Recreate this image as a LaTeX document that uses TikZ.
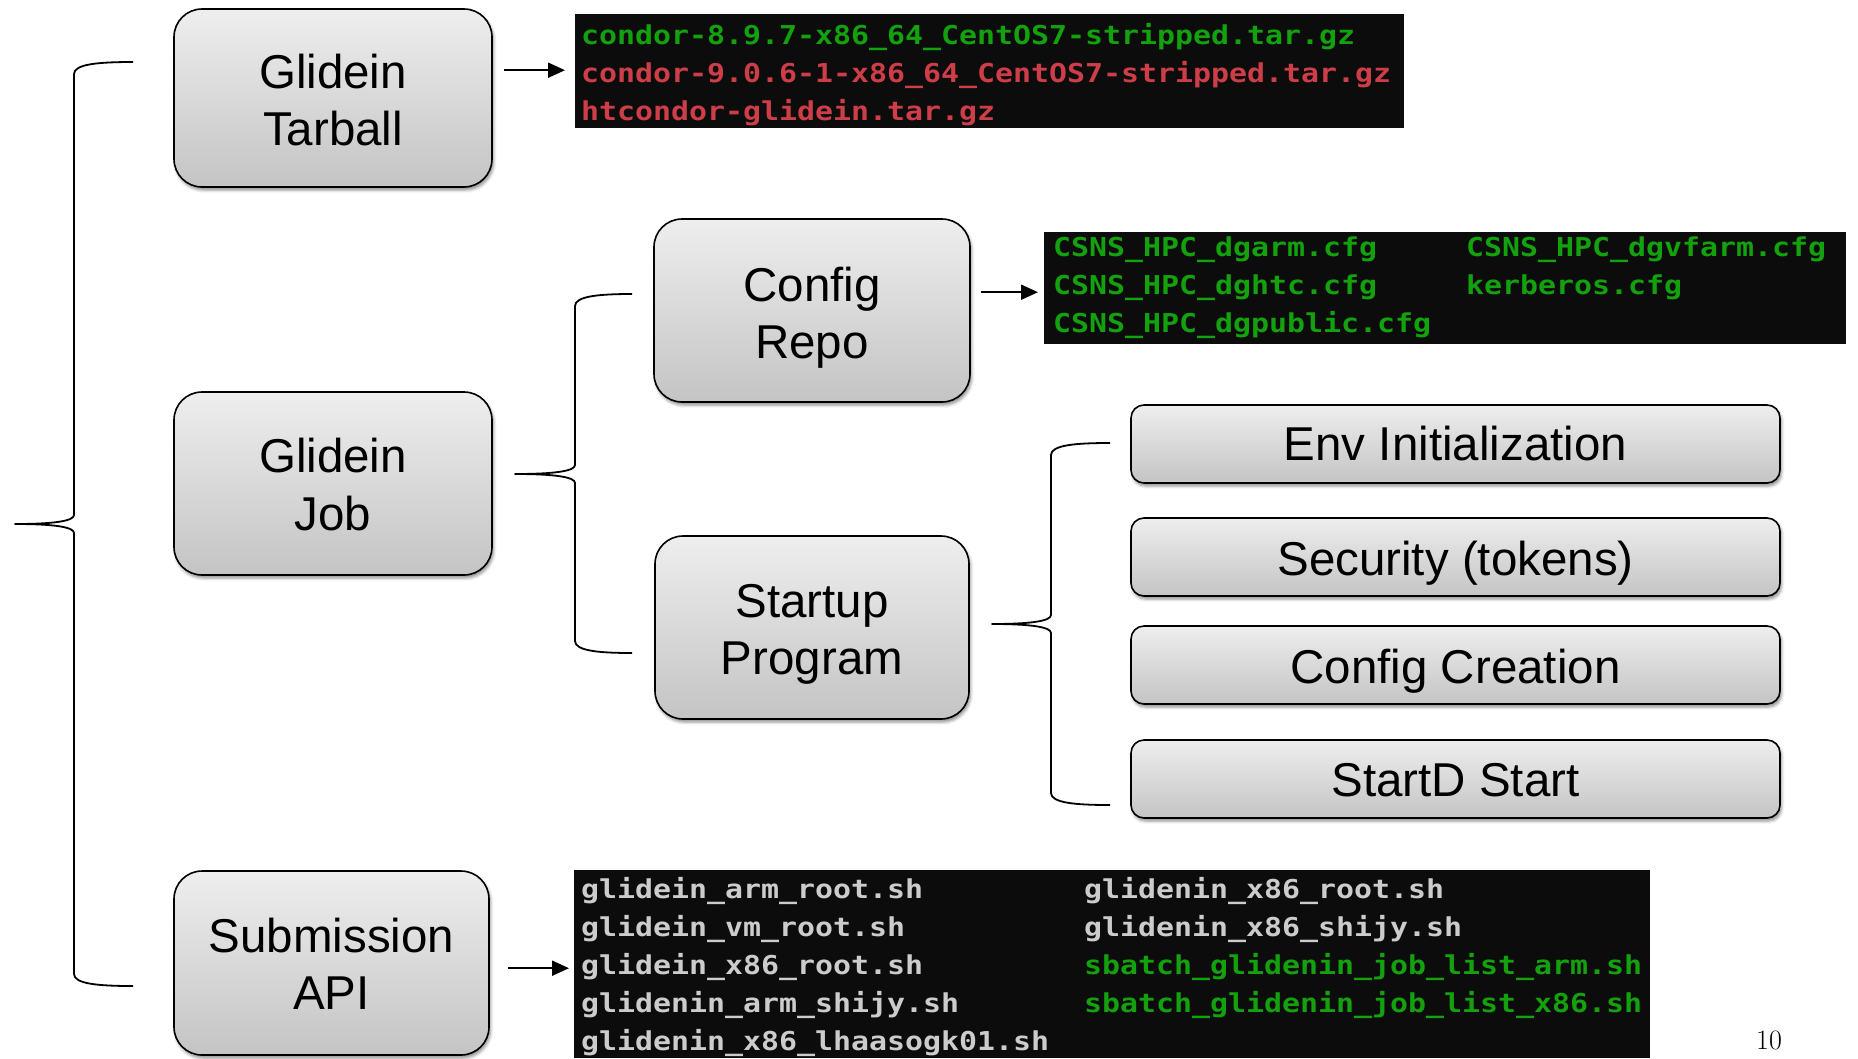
\documentclass[tikz,border=0pt]{standalone}
\usepackage{fontspec}
\usetikzlibrary{arrows.meta,shadows.blur,calc}
\newfontfamily\boxfont{Liberation Sans}
\newfontfamily\termfont[FakeStretch=1.15]{DejaVu Sans Mono Bold}
\definecolor{boxtop}{HTML}{EEEEEE}
\definecolor{boxbot}{HTML}{C4C4C4}
\definecolor{termbg}{HTML}{0C0C0C}
\definecolor{tgreen}{RGB}{19,161,14}
\definecolor{tred}{RGB}{205,62,72}
\definecolor{tgrey}{RGB}{204,204,204}

% curly brace: tip x, spine x, arm x, top y, middle y, bottom y
\newcommand\drawbrace[6]{%
  \draw[brc] (#3,#4) .. controls ({#2+25},#4) and (#2,{#4+2}) .. (#2,{#4+12})
    -- (#2,{#5-9}) .. controls (#2,{#5-3}) and ({#2-20},#5) .. (#1,#5)
    .. controls ({#2-20},#5) and (#2,{#5+3}) .. (#2,{#5+9})
    -- (#2,{#6-12}) .. controls (#2,{#6-2}) and ({#2+25},#6) .. (#3,#6);}

\begin{document}
\begin{tikzpicture}[x=1pt,y=-1pt,
  gbox/.style={draw=black, line width=1.6pt, rounded corners=28pt,
    top color=boxtop, bottom color=boxbot,
    blur shadow={shadow xshift=1.5pt, shadow yshift=-3pt, shadow blur radius=3pt, shadow opacity=45},
    inner sep=0pt},
  sbox/.style={gbox, rounded corners=13pt, minimum width=649pt, minimum height=78pt},
  btext/.style={font=\boxfont\fontsize{47.5}{57.5}\selectfont, align=center, inner sep=0pt},
  term/.style={fill=termbg, draw=none, inner sep=0pt, anchor=north west},
  tl/.style={inner sep=0pt, anchor=base west, font=\termfont\fontsize{26}{30}\selectfont},
  arr/.style={line width=2pt, -{Triangle[length=17pt,width=15pt]}},
  brc/.style={line width=1.8pt, line join=round}]
\useasboundingbox (0,0) rectangle (1858,1058);

% main boxes
\node[gbox, minimum width=318pt, minimum height=178pt] (tarball) at (333,98) {};
\node[gbox, minimum width=318pt, minimum height=183pt] (job) at (333,483.5) {};
\node[gbox, minimum width=315pt, minimum height=184pt] (submit) at (331.5,963) {};
\node[gbox, minimum width=316pt, minimum height=183pt] (config) at (812,310.5) {};
\node[gbox, minimum width=314pt, minimum height=183pt] (startup) at (812,627.5) {};

% startup steps
\node[sbox] (env) at (1455.5,444) {};
\node[sbox] (sec) at (1455.5,557) {};
\node[sbox] (cre) at (1455.5,665) {};
\node[sbox] (sdst) at (1455.5,779) {};

% box labels
\node[btext] (tarballtxt) at ($(tarball.center)+(0,2)$) {Glidein\\Tarball};
\node[btext] (jobtxt) at ($(job.center)+(0,1)$) {Glidein\\Job};
\node[btext] (submittxt) at ($(submit.center)+(0,1)$) {Submission\\API};
\node[btext] (configtxt) at ($(config.center)+(0,7)$) {Config\\Repo};
\node[btext] (startuptxt) at ($(startup.center)+(0,7)$) {Startup\\Program};
\node[btext] (envtxt) at ($(env.center)+(0,0)$) {Env Initialization};
\node[btext] (sectxt) at ($(sec.center)+(0,6)$) {Security (tokens)};
\node[btext] (cretxt) at ($(cre.center)+(0,6)$) {Config Creation};
\node[btext] (sdsttxt) at ($(sdst.center)+(0,1)$) {StartD Start};

% braces
\drawbrace{15}{74}{133}{62}{524}{986}
\drawbrace{515}{575}{632}{294}{474}{653}
\drawbrace{992}{1051}{1110}{443}{624}{805}

% terminal listings
\node[term, minimum width=829pt, minimum height=114pt] (tarterm) at (575,14) {};
\node[tl] (ta1) at (581,44) {\color{tgreen}condor-8.9.7-x86\_64\_CentOS7-stripped.tar.gz};
\node[tl] (ta2) at (581,82) {\color{tred}condor-9.0.6-1-x86\_64\_CentOS7-stripped.tar.gz};
\node[tl] (ta3) at (581,120) {\color{tred}htcondor-glidein.tar.gz};

\node[term, minimum width=802pt, minimum height=112pt] (cfgterm) at (1044,232) {};
\node[tl] (cf1) at (1053,256) {\color{tgreen}CSNS\_HPC\_dgarm.cfg};
\node[tl] (cf2) at (1053,294) {\color{tgreen}CSNS\_HPC\_dghtc.cfg};
\node[tl] (cf3) at (1053,332) {\color{tgreen}CSNS\_HPC\_dgpublic.cfg};
\node[tl] (cf4) at (1466,256) {\color{tgreen}CSNS\_HPC\_dgvfarm.cfg};
\node[tl] (cf5) at (1466,294) {\color{tgreen}kerberos.cfg};

\node[term, minimum width=1076pt, minimum height=188pt] (subterm) at (574,870) {};
\node[tl] (su1) at (581,898) {\color{tgrey}glidein\_arm\_root.sh};
\node[tl] (su2) at (581,936) {\color{tgrey}glidein\_vm\_root.sh};
\node[tl] (su3) at (581,974) {\color{tgrey}glidein\_x86\_root.sh};
\node[tl] (su4) at (581,1012) {\color{tgrey}glidenin\_arm\_shijy.sh};
\node[tl] (su5) at (581,1050) {\color{tgrey}glidenin\_x86\_lhaasogk01.sh};
\node[tl] (su6) at (1084,898) {\color{tgrey}glidenin\_x86\_root.sh};
\node[tl] (su7) at (1084,936) {\color{tgrey}glidenin\_x86\_shijy.sh};
\node[tl] (su8) at (1084,974) {\color{tgreen}sbatch\_glidenin\_job\_list\_arm.sh};
\node[tl] (su9) at (1084,1012) {\color{tgreen}sbatch\_glidenin\_job\_list\_x86.sh};

% arrows to listings
\draw[arr] ($(tarball.east |- tarterm.west)+(11,-1)$) -- ($(tarterm.west)+(-10,-1)$);
\draw[arr] ($(config.east |- cfgterm.west)+(10,4)$) -- ($(cfgterm.west)+(-6,4)$);
\draw[arr] ($(submit.east |- subterm.west)+(18,4)$) -- ($(subterm.west)+(-5,4)$);

% page number
\node[font=\fontsize{28}{30}\selectfont, inner sep=0pt] (pgnum) at (1769,1040) {10};
\end{tikzpicture}
\end{document}
